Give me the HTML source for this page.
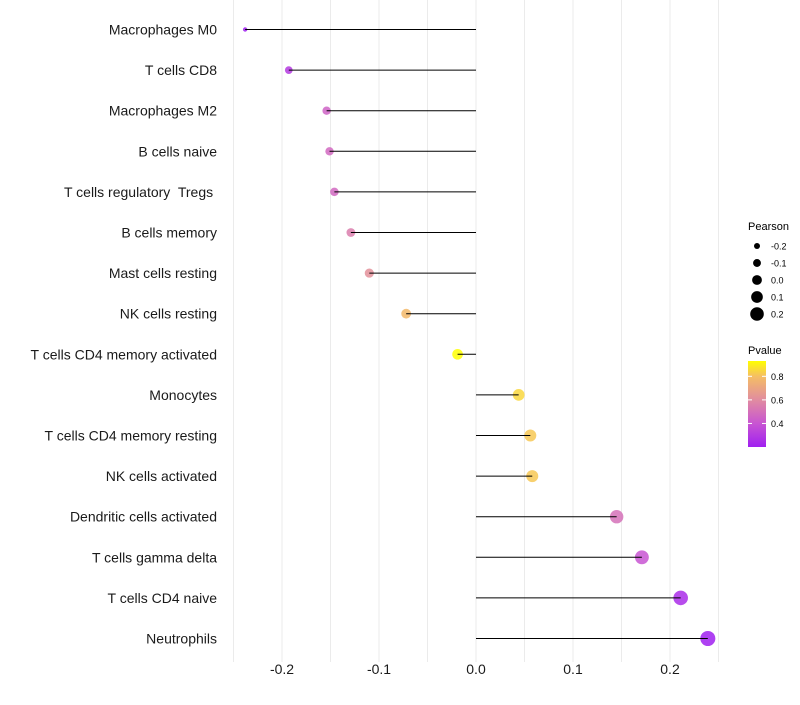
<!DOCTYPE html>
<html><head><meta charset="utf-8"><style>
body{margin:0;background:#fff;font-family:"Liberation Sans",sans-serif}
svg text{font-family:"Liberation Sans",sans-serif;white-space:pre}
</style></head><body>
<svg id="chart" width="800" height="700" xmlns="http://www.w3.org/2000/svg">
<g id="grid"></g>
<g id="marks"></g>
<g id="ylabels"></g>
<g id="xlabels"></g>
<g id="legend"></g>
</svg>
<script>
const categories=["Macrophages M0","T cells CD8","Macrophages M2","B cells naive","T cells regulatory  Tregs ","B cells memory","Mast cells resting","NK cells resting","T cells CD4 memory activated","Monocytes","T cells CD4 memory resting","NK cells activated","Dendritic cells activated","T cells gamma delta","T cells CD4 naive","Neutrophils"];
const pearson=[-0.238,-0.193,-0.154,-0.151,-0.146,-0.129,-0.110,-0.072,-0.019,0.044,0.056,0.058,0.145,0.171,0.211,0.239];
const pvalue=[0.2,0.3,0.45,0.47,0.47,0.55,0.62,0.78,0.93,0.85,0.82,0.82,0.5,0.4,0.25,0.2];
const xTicks=[-0.2,-0.1,0.0,0.1,0.2];
const xTickLabels=["-0.2","-0.1","0.0","0.1","0.2"];
const sizeLegend=[-0.2,-0.1,0.0,0.1,0.2];
const pLegendTicks=[0.4,0.6,0.8];

const NS="http://www.w3.org/2000/svg";
const x=v=>476+v*970;
const y=i=>29.5+i*40.6;
const r=v=>v<-0.22?2.2:5.5+8.5*v;
const stops=[[0.2,[160,32,240]],[0.4,[200,85,210]],[0.6,[225,140,160]],[0.8,[245,190,100]],[0.93,[255,255,0]]];
function col(p){
  if(p<=stops[0][0])return "rgb("+stops[0][1]+")";
  for(let k=1;k<stops.length;k++){if(p<=stops[k][0]){const a=stops[k-1],b=stops[k];const t=(p-a[0])/(b[0]-a[0]);return "rgb("+a[1].map((c,j)=>Math.round(c+(b[1][j]-c)*t)).join(",")+")";}}
  return "rgb("+stops[stops.length-1][1]+")";
}
function mk(parent,tag,attrs){const e=document.createElementNS(NS,tag);for(const k in attrs)e.setAttribute(k,attrs[k]);document.getElementById(parent).appendChild(e);return e;}
for(let v=-0.25;v<=0.251;v+=0.05){
  const g=mk("grid","line",{x1:x(v),x2:x(v),y1:0,y2:662,stroke:"#ebebeb","stroke-width":1});
  
  
}
categories.forEach((c,i)=>{
  const pt=mk("marks","circle",{cx:x(pearson[i]),cy:y(i),r:r(pearson[i]),fill:col(pvalue[i]),"fill-opacity":0.85});
  
  
  const ln=mk("marks","line",{x1:x(0),x2:x(pearson[i]),y1:y(i),y2:y(i),stroke:"#000","stroke-width":1});
  
  
  const t=mk("ylabels","text",{x:217,y:y(i)+5,"text-anchor":"end","font-size":14,fill:"#1a1a1a"});
  t.textContent=c;
  
  
});
xTicks.forEach((v,i)=>{
  const t=mk("xlabels","text",{x:x(v),y:674,"text-anchor":"middle","font-size":14,fill:"#1a1a1a"});
  t.textContent=xTickLabels[i];
  
  
});
const lt=mk("legend","text",{x:748,y:230,"font-size":11,fill:"#000"});lt.textContent="Pearson";


sizeLegend.forEach((v,i)=>{
  const cy=246+i*17;
  const c=mk("legend","circle",{cx:757,cy:cy,r:4.9+v*9.5,fill:"#000"});
  
  
  const t=mk("legend","text",{x:771,y:cy+3.5,"font-size":9,fill:"#000"});t.textContent=v.toFixed(1);
  
  
});
const pt=mk("legend","text",{x:748,y:354,"font-size":11,fill:"#000"});pt.textContent="Pvalue";


const defs=mk("legend","defs",{});
const lg=document.createElementNS(NS,"linearGradient");lg.setAttribute("id","pg");lg.setAttribute("x1","0");lg.setAttribute("x2","0");lg.setAttribute("y1","1");lg.setAttribute("y2","0");defs.appendChild(lg);
const pMin=0.2,pMax=0.93;
stops.forEach(s=>{const st=document.createElementNS(NS,"stop");st.setAttribute("offset",(s[0]-pMin)/(pMax-pMin));st.setAttribute("stop-color","rgb("+s[1]+")");lg.appendChild(st);});
const bar=mk("legend","rect",{x:748,y:361,width:18,height:86,fill:"url(#pg)"});


const py=p=>447-(p-pMin)/(pMax-pMin)*86;
pLegendTicks.forEach(p=>{
  mk("legend","line",{x1:748,x2:752,y1:py(p),y2:py(p),stroke:"#fff"});
  mk("legend","line",{x1:762,x2:766,y1:py(p),y2:py(p),stroke:"#fff"});
  const t=mk("legend","text",{x:771,y:py(p)+3.5,"font-size":9,fill:"#000"});t.textContent=p.toFixed(1);
  
  
});
</script>
</body></html>
